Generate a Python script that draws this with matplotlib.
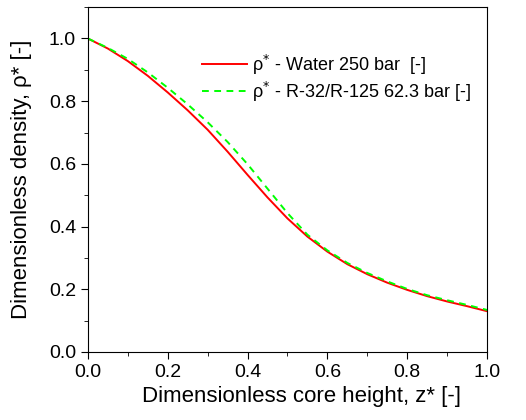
import numpy as np
import matplotlib
matplotlib.use('Agg')
from matplotlib import pyplot as plt
from matplotlib.ticker import MultipleLocator, FormatStrFormatter

plt.rcParams['font.family'] = ['Liberation Sans', 'DejaVu Sans']

z = [0.00, 0.05, 0.10, 0.15, 0.20, 0.25, 0.30, 0.35, 0.40, 0.45, 0.50,
     0.55, 0.60, 0.65, 0.70, 0.75, 0.80, 0.85, 0.90, 0.95, 1.00]
rho_water = [1.000, 0.968, 0.928, 0.881, 0.828, 0.771, 0.709, 0.639, 0.565, 0.493, 0.426,
             0.368, 0.320, 0.280, 0.248, 0.221, 0.198, 0.178, 0.161, 0.146, 0.130]
rho_r32 = [1.000, 0.970, 0.935, 0.892, 0.843, 0.790, 0.733, 0.670, 0.599, 0.521, 0.443,
           0.374, 0.324, 0.284, 0.252, 0.225, 0.201, 0.181, 0.165, 0.150, 0.134]

fig = plt.figure(figsize=(5.26, 4.2), dpi=100)
ax = fig.add_axes([0.167, 0.162, 0.759, 0.821])

ax.plot(z, rho_water, color='#ff0000', lw=1.4, label='ρ$^{*}$ - Water 250 bar  [-]')
ax.plot(z, rho_r32, color='#00ff00', lw=1.4, ls=(0, (3.5, 2.8)), label='ρ$^{*}$ - R-32/R-125 62.3 bar [-]')

ax.set_xlim(0, 1.0)
ax.set_ylim(0, 1.1)
ax.xaxis.set_major_locator(MultipleLocator(0.2))
ax.xaxis.set_minor_locator(MultipleLocator(0.1))
ax.yaxis.set_major_locator(MultipleLocator(0.2))
ax.yaxis.set_minor_locator(MultipleLocator(0.1))
ax.xaxis.set_major_formatter(FormatStrFormatter('%.1f'))
ax.yaxis.set_major_formatter(FormatStrFormatter('%.1f'))
ax.tick_params(which='both', direction='out', labelsize=14)
ax.tick_params(which='major', length=5)
ax.tick_params(which='minor', length=3)

ax.set_xlabel('Dimensionless core height, z* [-]', fontsize=16, labelpad=8)
ax.xaxis.set_label_coords(0.534, -0.1)
ax.set_ylabel('Dimensionless density, ρ* [-]', fontsize=16, labelpad=12)

ax.legend(loc='upper left', bbox_to_anchor=(0.245, 0.915), frameon=False, fontsize=13,
          handlelength=2.5, handletextpad=0.3, labelspacing=0.15)

fig.savefig('out.png', dpi=100)
